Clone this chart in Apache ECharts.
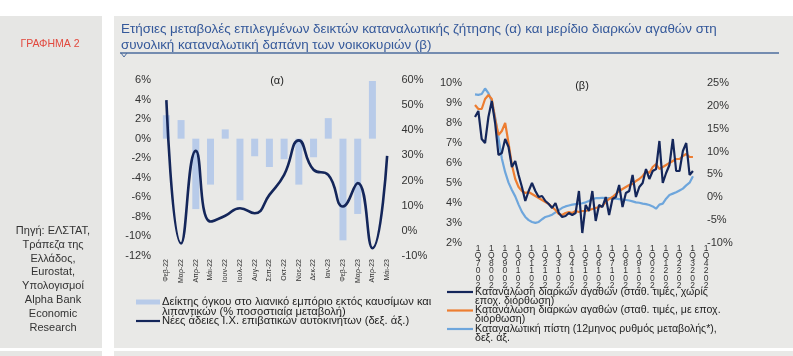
<!DOCTYPE html>
<html><head><meta charset="utf-8">
<script src="https://cdn.jsdelivr.net/npm/echarts@6/dist/echarts.min.js"></script>
<style>html,body{margin:0;padding:0;background:#fff;}#c{width:793px;height:356px;}</style>
</head><body><div id="c"></div>
<script>
// ---------- DATA: chart (α) ----------
const monthLabels = ['Φεβ-22','Μαρ-22','Απρ-22','Μάι-22','Ιουν-22','Ιουλ-22','Αυγ-22','Σεπ-22','Οκτ-22','Νοε-22','Δεκ-22','Ιαν-23','Φεβ-23','Μαρ-23','Απρ-23','Μάι-23'];
const retailVolume = [2.4, 1.9, -7.2, -4.7, 0.95, -6.3, -1.8, -2.9, -2.1, -4.7, -1.9, 2.1, -10.4, -7.7, 5.9, null];
const carLicences  = [52, -5, 31.8, 3.7, 6, 9, 7, 14.3, 22.3, 36, 24.3, 22.3, 9.7, 19, -6.9, 29.8];
// ---------- DATA: chart (β) ----------
const years = [2007,2008,2009,2010,2011,2012,2013,2014,2015,2016,2017,2018,2019,2020,2021,2022,2023,2024];
const quarterLabels = [];
years.forEach(y => { for (let q = 1; q <= 4; q++) { if (y === 2024 && q > 1) break; quarterLabels.push(q + 'Q' + y); } });
const durablesNSA = [8.3,8.6,7.2,7.0,8.3,9.1,8.0,6.4,6.5,7.2,6.8,5.8,6.1,5.4,4.8,4.1,4.6,5.0,4.6,4.3,
  4.35,4.1,3.95,3.75,4.0,3.5,3.3,3.35,3.5,3.4,3.5,4.6,2.5,3.9,3.6,4.6,3.1,3.9,3.8,4.3,
  3.4,4.2,4.3,4.9,3.8,4.5,4.6,5.4,4.3,4.8,5.0,5.7,5.2,5.6,5.7,7.1,5.0,5.5,5.9,7.2,
  5.6,5.6,6.6,7.0,5.4,5.6];
const durablesSA = [8.9,8.7,8.7,9.2,9.4,9.2,8.2,7.4,7.6,8.0,7.0,5.9,5.2,4.8,4.6,4.5,4.55,4.45,4.35,4.25,
  4.15,4.05,3.95,3.8,3.65,3.45,3.4,3.5,3.55,3.5,3.6,3.55,3.6,3.6,3.65,3.7,3.75,3.8,3.85,4.05,
  4.2,4.3,4.45,4.6,4.7,4.8,4.9,4.95,5.1,5.2,5.35,5.6,5.5,5.8,5.95,5.7,5.8,5.9,6.0,6.1,
  6.2,6.2,6.35,6.45,6.3,6.3];
const consumerCredit = [22.5,22.4,22.6,23.8,22.8,21.0,17.5,13.0,8.5,5.5,3.2,1.6,0.2,-1.6,-3.2,-4.3,-5.0,-5.4,-5.6,-5.4,
  -4.8,-4.3,-4.1,-3.8,-3.3,-2.8,-2.3,-2.0,-1.8,-1.6,-1.5,-1.4,-1.3,-1.1,-0.8,-0.4,-0.2,-0.2,-0.1,-0.2,
  -0.2,-0.3,-0.3,-0.4,-0.5,-0.6,-0.7,-0.9,-1.1,-1.2,-1.4,-1.5,-1.7,-2.0,-2.5,-1.6,-1.4,-0.3,0.5,0.8,
  1.1,1.5,1.9,2.6,3.2,4.6];
// ---------- TEXTS ----------
const titleLines = ['Ετήσιες μεταβολές επιλεγμένων δεικτών καταναλωτικής ζήτησης (α) και μερίδιο διαρκών αγαθών στη','συνολική καταναλωτική δαπάνη των νοικοκυριών (β)'];
const sourceLines = ['Πηγή: ΕΛΣΤΑΤ,','Τράπεζα της','Ελλάδος,','Eurostat,','Υπολογισμοί','Alpha Bank','Economic','Research'];

const NAVY = '#14265a', ORANGE = '#ed7d31', LBLUE = '#6ea6dc', BARBLUE = '#b8cbe9';
const FONT = '"Liberation Sans", Arial, sans-serif';
const axisTxt = { color: '#333', fontSize: 11, fontFamily: FONT };

const g = [];
// panels
g.push({ type: 'rect', z: -100, shape: { x: 0, y: 16, width: 102, height: 332 }, style: { fill: '#e6e6e4' }, silent: true });
g.push({ type: 'rect', z: -100, shape: { x: 114, y: 16, width: 679, height: 332 }, style: { fill: '#e9e9e7' }, silent: true });
g.push({ type: 'rect', z: -100, shape: { x: 0, y: 351, width: 102, height: 5 }, style: { fill: '#e6e6e4' }, silent: true });
g.push({ type: 'rect', z: -100, shape: { x: 114, y: 351, width: 679, height: 5 }, style: { fill: '#e9e9e7' }, silent: true });
// header
g.push({ type: 'text', style: { x: 50, y: 44, text: 'ΓΡΑΦΗΜΑ 2', fill: '#e2483d', font: '10.5px ' + FONT, align: 'center', verticalAlign: 'middle' } });
titleLines.forEach((t, i) => g.push({ type: 'text', style: { x: 121, y: 29 + i * 16, text: t, fill: '#34589a', font: '13.4px ' + FONT, align: 'left', verticalAlign: 'middle' } }));
g.push({ type: 'line', shape: { x1: 120, y1: 53, x2: 779, y2: 53 }, style: { stroke: '#4d6c9e', lineWidth: 1.5 } });
g.push({ type: 'polyline', shape: { points: [[121, 53], [124, 57], [127, 53]] }, style: { stroke: '#4d6c9e', lineWidth: 1, fill: null } });
// source
sourceLines.forEach((t, i) => g.push({ type: 'text', style: { x: 53, y: 231 + i * 13.8, text: t, fill: '#333', font: '11px ' + FONT, align: 'center', verticalAlign: 'middle' } }));
// subtitles
g.push({ type: 'text', style: { x: 277, y: 81, text: '(α)', fill: '#222', font: '11px ' + FONT, align: 'center', verticalAlign: 'middle' } });
g.push({ type: 'text', style: { x: 582, y: 86, text: '(β)', fill: '#222', font: '11px ' + FONT, align: 'center', verticalAlign: 'middle' } });
// legend (α)
const legA = [
  { sw: 'rect', color: BARBLUE, y: 302, lines: ['Δείκτης όγκου στο λιανικό εμπόριο εκτός καυσίμων και', 'λιπαντικών (% ποσοστιαία μεταβολή)'] },
  { sw: 'line', color: NAVY, y: 321, lines: ['Νέες άδειες Ι.Χ. επιβατικών αυτοκινήτων (δεξ. άξ.)'] }
];
legA.forEach(it => {
  if (it.sw === 'rect') g.push({ type: 'rect', shape: { x: 136, y: it.y - 2.5, width: 24, height: 5 }, style: { fill: it.color } });
  else g.push({ type: 'line', shape: { x1: 136, y1: it.y, x2: 160, y2: it.y }, style: { stroke: it.color, lineWidth: 2.2 } });
  it.lines.forEach((t, i) => g.push({ type: 'text', style: { x: 162, y: it.y + i * 9.7, text: t, fill: '#222', font: '11.2px ' + FONT, align: 'left', verticalAlign: 'middle' } }));
});
// legend (β)
const legB = [
  { color: NAVY, y: 292, lines: ['Κατανάλωση διαρκών αγαθών (σταθ. τιμές, χωρίς', 'εποχ. διόρθωση)'] },
  { color: ORANGE, y: 310.5, lines: ['Κατανάλωση διαρκών αγαθών (σταθ. τιμές, με εποχ.', 'διόρθωση)'] },
  { color: LBLUE, y: 329, lines: ['Καταναλωτική πίστη (12μηνος ρυθμός μεταβολής*),', 'δεξ. άξ.'] }
];
legB.forEach(it => {
  g.push({ type: 'line', shape: { x1: 447, y1: it.y, x2: 473, y2: it.y }, style: { stroke: it.color, lineWidth: 2.2 } });
  it.lines.forEach((t, i) => g.push({ type: 'text', style: { x: 475, y: it.y + i * 9, text: t, fill: '#222', font: '10.6px ' + FONT, align: 'left', verticalAlign: 'middle' } }));
});

const chart = echarts.init(document.getElementById('c'), null, { renderer: 'canvas' });
chart.setOption({
  animation: false,
  backgroundColor: 'transparent',
  textStyle: { fontFamily: FONT },
  graphic: g,
  grid: [
    { left: 159, top: 80, width: 235.5, height: 176 },
    { left: 475, top: 83, width: 228, height: 160 }
  ],
  xAxis: [
    { type: 'category', gridIndex: 0, data: monthLabels, boundaryGap: true,
      axisLine: { show: false }, axisTick: { show: false },
      axisLabel: { rotate: 90, interval: 0, fontSize: 7, color: '#333', margin: 3, fontFamily: FONT } },
    { type: 'category', gridIndex: 1, data: quarterLabels, boundaryGap: false,
      axisLine: { show: false }, axisTick: { show: false },
      axisLabel: { interval: 3, fontSize: 8.5, lineHeight: 7.4, color: '#333', margin: 2, padding: [0, 0, 0, 6], fontFamily: FONT,
        formatter: v => [v[0], v[1]].concat(v.slice(2).split('').reverse()).join('\n') } }
  ],
  yAxis: [
    { type: 'value', gridIndex: 0, position: 'left', min: -12, max: 6, interval: 2, splitLine: { show: false },
      axisLabel: Object.assign({ formatter: '{value}%', margin: 8 }, axisTxt) },
    { type: 'value', gridIndex: 0, position: 'right', min: -10, max: 60, interval: 10, splitLine: { show: false },
      axisLabel: Object.assign({ formatter: '{value}%', margin: 7 }, axisTxt) },
    { type: 'value', gridIndex: 1, position: 'left', min: 2, max: 10, interval: 1, splitLine: { show: false },
      axisLabel: Object.assign({ formatter: '{value}%', margin: 13 }, axisTxt) },
    { type: 'value', gridIndex: 1, position: 'right', min: -10, max: 25, interval: 5, splitLine: { show: false },
      axisLabel: Object.assign({ formatter: '{value}%', margin: 4 }, axisTxt) }
  ],
  series: [
    { name: 'Δείκτης όγκου στο λιανικό εμπόριο', type: 'bar', xAxisIndex: 0, yAxisIndex: 0, data: retailVolume, barWidth: 7, itemStyle: { color: BARBLUE } },
    { name: 'Νέες άδειες Ι.Χ.', type: 'line', xAxisIndex: 0, yAxisIndex: 1, data: carLicences, smooth: 0.5, symbol: 'none', lineStyle: { color: NAVY, width: 2.6 } },
    { name: 'Καταναλωτική πίστη', type: 'line', xAxisIndex: 1, yAxisIndex: 3, data: consumerCredit, symbol: 'none', lineStyle: { color: LBLUE, width: 2.2 } },
    { name: 'Κατανάλωση διαρκών (εποχ.)', type: 'line', xAxisIndex: 1, yAxisIndex: 2, data: durablesSA, symbol: 'none', lineStyle: { color: ORANGE, width: 2.2 } },
    { name: 'Κατανάλωση διαρκών (χωρίς εποχ.)', type: 'line', xAxisIndex: 1, yAxisIndex: 2, data: durablesNSA, symbol: 'none', lineStyle: { color: NAVY, width: 2.2 } }
  ]
});
</script></body></html>
